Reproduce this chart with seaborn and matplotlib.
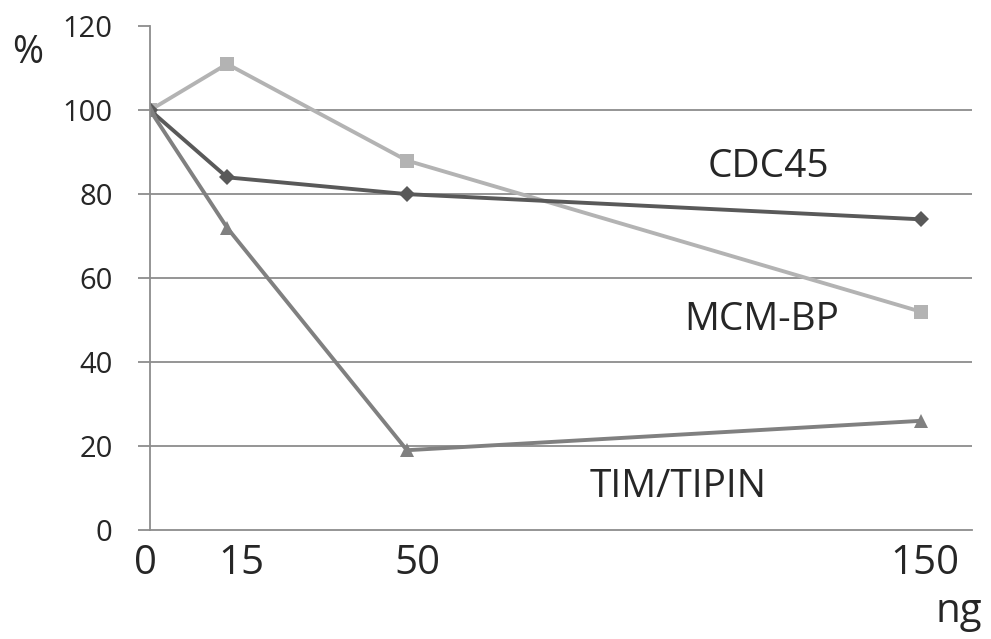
import pandas as pd
import matplotlib.pyplot as plt
import matplotlib.transforms as mtransforms
import seaborn as sns

# Values
doses = [0, 15, 50, 150]
cdc45 = [100, 84, 80, 74]
mcm_bp = [100, 111, 88, 52]
tim_tipin = [100, 72, 19, 26]

series_names = ['CDC45', 'MCM-BP', 'TIM/TIPIN']
y_ticks = [0, 20, 40, 60, 80, 100, 120]

df = pd.DataFrame({
    'ng': doses * 3,
    'pct': cdc45 + mcm_bp + tim_tipin,
    'series': [n for n in series_names for _ in doses],
})

sns.set_theme(style="white")
plt.rcParams['font.family'] = ['Open Sans', 'DejaVu Sans']

fig = plt.figure(figsize=(9.91, 6.39), dpi=100)
ax = fig.add_axes([0.1514, 0.1706, 0.981 - 0.1514, 0.959 - 0.1706])

kleuren = {'CDC45': '#595959', 'MCM-BP': '#b3b3b3', 'TIM/TIPIN': '#808080'}
markers = {'CDC45': 'D', 'MCM-BP': 's', 'TIM/TIPIN': '^'}
sizes = {'CDC45': 8, 'MCM-BP': 10, 'TIM/TIPIN': 10}

# TIM/TIPIN drawn last so its triangle sits on top at (0, 100)
for naam in ['MCM-BP', 'CDC45', 'TIM/TIPIN']:
    sub = df[df['series'] == naam]
    sns.lineplot(data=sub, x='ng', y='pct', ax=ax, color=kleuren[naam],
                 marker=markers[naam], markersize=sizes[naam], markeredgewidth=0,
                 linewidth=2.8, legend=False)

ax.set_xlim(0, 160)
ax.set_ylim(0, 120)
ax.set_yticks(y_ticks)
ax.set_yticklabels([str(t) for t in y_ticks], fontsize=21)
ax.set_xticks(doses)
ax.set_xticklabels([str(d) for d in doses], fontsize=29)
ax.tick_params(axis='x', length=0, pad=10)
ax.tick_params(axis='y', length=9, width=1.3, color='#8c8c8c', pad=18, left=True)
ax.set_xlabel('')
ax.set_ylabel('')

# small horizontal nudges of the x labels, as in the original
nudges = [-5, 14, 10, 4]
for lab, dx in zip(ax.get_xticklabels(), nudges):
    lab.set_transform(lab.get_transform() + mtransforms.ScaledTranslation(dx / 100, 0, fig.dpi_scale_trans))

for t in y_ticks[1:-1]:
    ax.axhline(t, color='#8c8c8c', linewidth=1.3, zorder=0)

for side in ['top', 'right']:
    ax.spines[side].set_visible(False)
for side in ['left', 'bottom']:
    ax.spines[side].set_color('#8c8c8c')
    ax.spines[side].set_linewidth(1.3)
ax.spines['bottom'].set_zorder(0)

# Series labels placed in the plot
ax.text(120.3, 86.5, 'CDC45', fontsize=28, ha='center', va='center')
ax.text(119, 50, 'MCM-BP', fontsize=28, ha='center', va='center')
ax.text(102.8, 10.3, 'TIM/TIPIN', fontsize=28, ha='center', va='center')

# Axis units
fig.text(28 / 991, 1 - 53 / 639, '%', fontsize=27, ha='center', va='center')
fig.text(959 / 991, 1 - 612 / 639, 'ng', fontsize=29, ha='center', va='center')

fig.savefig('out.png', dpi=100)
